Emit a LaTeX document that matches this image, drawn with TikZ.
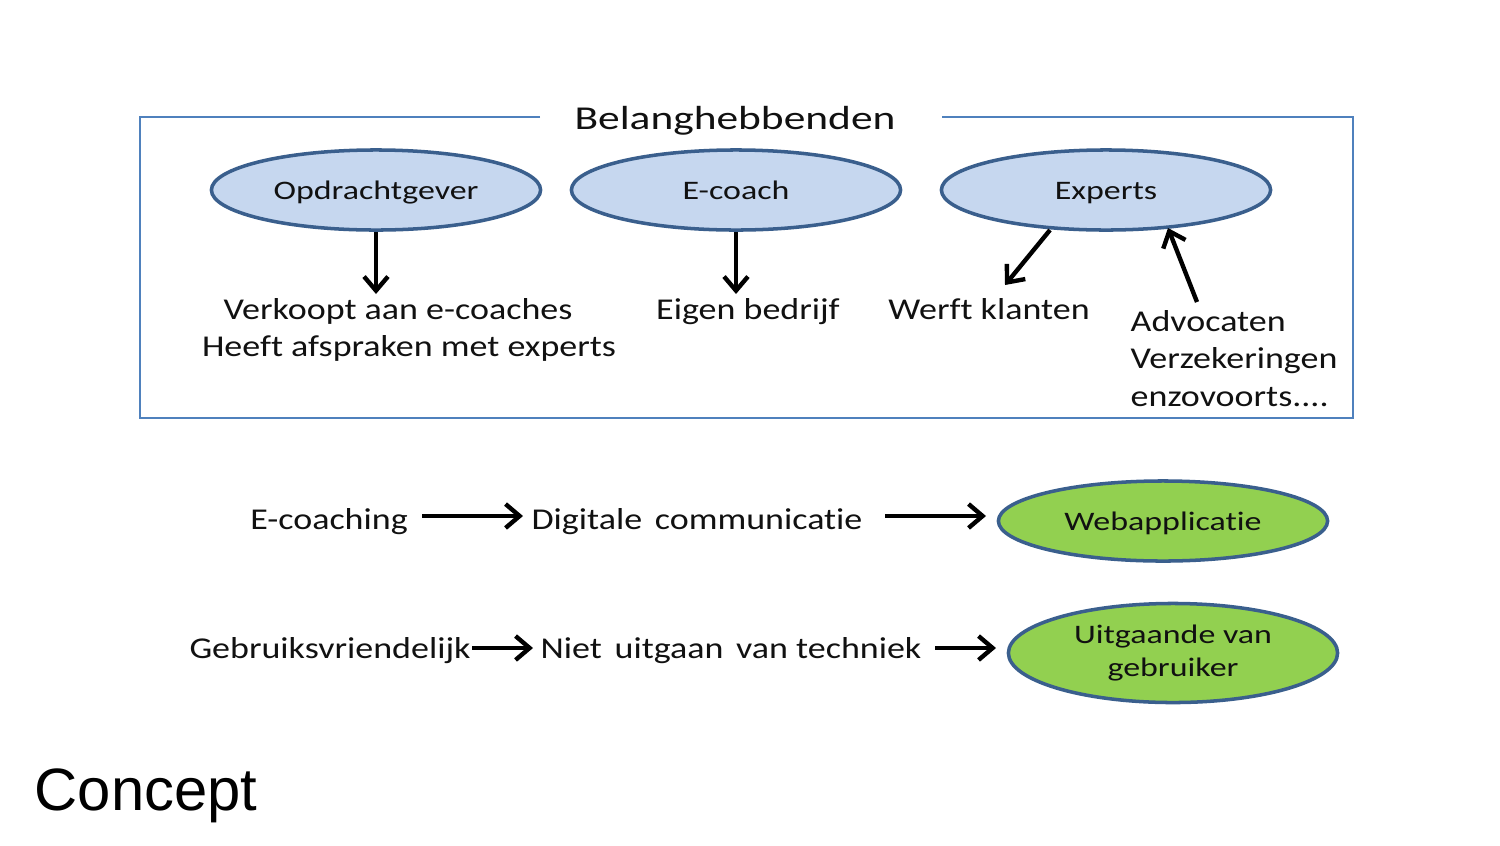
\documentclass[tikz,border=0pt]{standalone}
\usepackage{fontspec}
\setmainfont[FakeStretch=1.19,Ligatures=NoCommon]{Carlito}
\newfontfamily\ellfont[FakeStretch=1.27,Ligatures=NoCommon]{Carlito}
\newfontfamily\titlefont[FakeStretch=1.3,Ligatures=NoCommon]{Carlito}
\newfontfamily\arialfont{Liberation Sans}
\usetikzlibrary{arrows.meta,shapes.geometric}
\definecolor{frameblue}{HTML}{4F81BD}
\definecolor{ellborder}{HTML}{3A5F8D}
\definecolor{ellblue}{HTML}{C6D7EF}
\definecolor{ellgreen}{HTML}{92D050}
\definecolor{txt}{HTML}{111111}
\newcommand{\dsp}{\hspace{0.42em}}
\tikzset{
  px/.style={x=0.01cm,y=-0.01cm},
  ell/.style={ellipse, draw=ellborder, line width=1pt, minimum width=3.29cm, minimum height=0.80cm, inner sep=0pt, text=txt, font=\ellfont\fontsize{7.6}{9}\selectfont},
  blueell/.style={ell, fill=ellblue, text height=1.45ex, text depth=0.35ex},
  greenell/.style={ell, fill=ellgreen, font=\ellfont\fontsize{7.6}{9.3}\selectfont, align=center},
  lbl/.style={inner sep=0pt, text=txt, font=\fontsize{8.6}{10.6}\selectfont, text height=1.45ex, text depth=0.35ex},
  arr/.style={draw=black, line width=1.25pt, -{Straight Barb[length=4pt,width=6.8pt,line width=1.25pt]}},
}
\begin{document}
\begin{tikzpicture}[px]
\useasboundingbox[fill=white] (0,0) rectangle (1500,845);
% frame
\coordinate (g1) at (540,117);
\coordinate (g2) at (942,117);
\draw[frameblue, line width=0.8pt] (g1) -- (140,117) -- (140,418) -- (1353,418) -- (1353,117) -- (g2);
\node[lbl, font=\titlefont\fontsize{9.5}{11}\selectfont] (title) at (735,120) {Belanghebbenden};
% ellipses
\node[blueell] (opd) at (376,190) {Opdrachtgever};
\node[blueell] (eco) at (736,190) {E-coach};
\node[blueell] (exp) at (1106,190) {Experts};
% labels
\node[lbl] (verk) at (398,310) {Verkoopt aan e-coaches};
\node[lbl] (heeft) at (409,347) {Heeft afspraken met experts};
\node[lbl] (eigen) at (748,310) {Eigen bedrijf};
\node[lbl] (werft) at (989,310) {Werft klanten};
\node[inner sep=0pt, text=txt, anchor=north west, align=left, font=\fontsize{8.6}{10.6}\selectfont] (adv) at (1130,310) {Advocaten\\Verzekeringen\\enzovoorts....};
% arrows
\coordinate (a1e) at (376,294);
\coordinate (a2e) at (736,294);
\coordinate (a3s) at (1050,230); \coordinate (a3e) at (1005,285);
\coordinate (a4s) at (1197,302); \coordinate (a4e) at (1168,228);
\draw[arr] (opd.south) -- (a1e);
\draw[arr] (eco.south) -- (a2e);
\draw[arr] (a3s) -- (a3e);
\draw[arr] (a4s) -- (a4e);
% row 1
\node[lbl] (ecg) at (329,520) {E-coaching};
\node[lbl] (dig) at (697,520) {Digitale\dsp communicatie};
\node[greenell, text height=1.45ex, text depth=0.35ex] (web) at (1163,521) {Webapplicatie};
\draw[arr] (422,516) -- (523,516);
\draw[arr] (885,516) -- (986,516);
% row 2
\node[lbl] (geb) at (330,649) {Gebruiksvriendelijk};
\node[lbl] (niet) at (731,649) {Niet\dsp uitgaan\dsp van techniek};
\node[greenell, minimum height=0.99cm] (uit) at (1173,653) {Uitgaande van\\gebruiker};
\draw[arr] (472,648) -- (533,648);
\draw[arr] (935,648) -- (996,648);
% title
\node[inner sep=0pt, anchor=west, font=\arialfont\fontsize{17}{19}\selectfont] (concept) at (34,796) {Concept};
\end{tikzpicture}
\end{document}
